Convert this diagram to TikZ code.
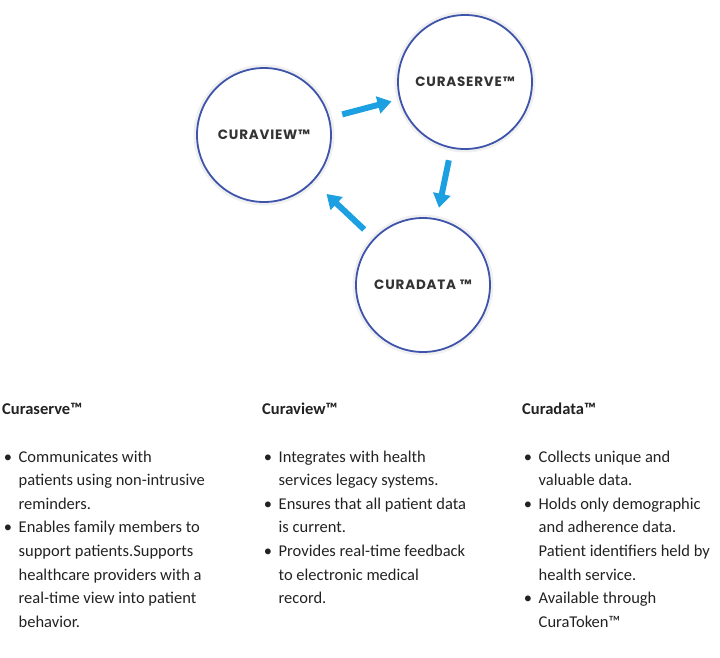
\documentclass[tikz,border=0pt]{standalone}
\usepackage{fontspec}
\setmainfont{Carlito}
\newfontfamily\circfont{Poppins}[LetterSpace=6]
\usetikzlibrary{arrows.meta,positioning}

\definecolor{ringblue}{RGB}{62,84,170}
\definecolor{flowblue}{RGB}{28,160,226}
\definecolor{textgray}{RGB}{34,34,34}

\begin{document}
\begin{tikzpicture}[x=1pt, y=-1pt,
  ring/.style={circle, draw=ringblue, line width=1.8pt, fill=white,
    minimum size=134pt, inner sep=0pt,
    preaction={draw=black!6, line width=7pt},
    font=\circfont\bfseries\fontsize{13.5}{13.5}\selectfont, text=black!80},
  flow/.style={-{Triangle[length=14pt,width=17pt]}, line width=6pt, flowblue},
  head/.style={anchor=base west, inner sep=0pt,
    font=\bfseries\fontsize{16.5}{20}\selectfont, text=textgray},
  item/.style={anchor=base west, inner sep=0pt,
    font=\fontsize{16.5}{23.6}\selectfont, text=textgray},
  dot/.style={anchor=base, inner sep=0pt,
    font=\fontsize{16.5}{20}\selectfont, text=textgray}
]
\useasboundingbox (0,0) rectangle (720,657);

% the three circles
\node[ring] (curaview) at (264,135) {CURAVIEW™};
\node[ring] (curaserve) at (465,82) {CURASERVE™};
\node[ring] (curadata) at (423,285) {CURADATA ™};

% cycle between them
\draw[flow, shorten <=13pt, shorten >=8pt] (curaview) -- (curaserve);
\draw[flow, shorten <=12pt, shorten >=11pt] (curaserve) -- (curadata);
\draw[flow, shorten <=13pt, shorten >=18pt] (curadata) -- (curaview);

% column headings
\foreach \x/\name/\lab in {2/hserve/Curaserve™, 262/hview/Curaview™, 522/hdata/Curadata™}
  \node[head] (\name) at (\x,414) {\lab};

% bullet lists, \k = line on which the item starts
\foreach \x/\k/\name/\txt in {
  2/0/sa/{Communicates with\\patients using non-intrusive\\reminders.},
  2/3/sb/{Enables family members to\\support patients.Supports\\healthcare providers with a\\real-time view into patient\\behavior.},
  262/0/va/{Integrates with health\\services legacy systems.},
  262/2/vb/{Ensures that all patient data\\is current.},
  262/4/vc/{Provides real-time feedback\\to electronic medical\\record.},
  522/0/da/{Collects unique and\\valuable data.},
  522/2/db/{Holds only demographic\\and adherence data.\\Patient identifiers held by\\health service.},
  522/6/dc/{Available through\\CuraToken™}} {
  \node[dot] (dot-\name) at (\x+6, 462+23.6*\k) {•};
  \node[item] (\name) at (\x+16.5, 462+23.6*\k) {\parbox[t]{200pt}{\txt}};
}
\end{tikzpicture}
\end{document}
